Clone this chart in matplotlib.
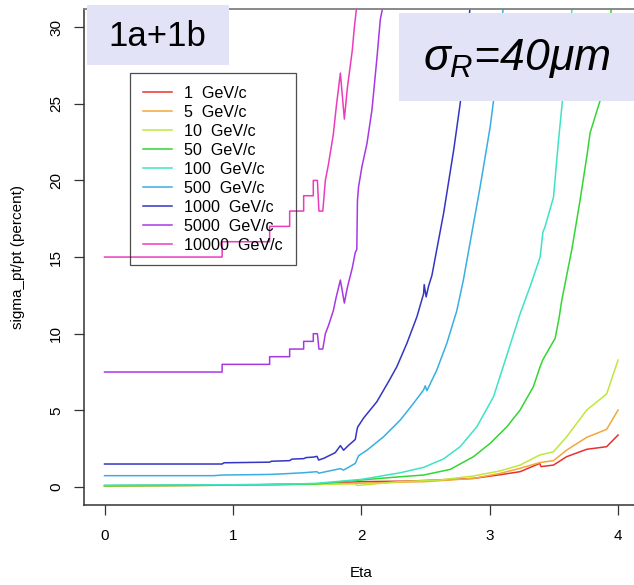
import matplotlib
matplotlib.use("Agg")
import matplotlib.pyplot as plt
from matplotlib.patches import Rectangle

plt.rcParams['font.family'] = ['Liberation Sans', 'DejaVu Sans']
plt.rcParams['mathtext.fontset'] = 'custom'
plt.rcParams['mathtext.it'] = 'Liberation Sans:italic'
plt.rcParams['mathtext.rm'] = 'Liberation Sans:italic'

# momentum labels and line colours
momenta = ["1  GeV/c", "5  GeV/c", "10  GeV/c", "50  GeV/c", "100  GeV/c",
           "500  GeV/c", "1000  GeV/c", "5000  GeV/c", "10000  GeV/c"]
colors = ['#e8312e', '#f2a83a', '#bfe83c', '#33d633', '#3ee3c3',
          '#3aaee3', '#3535c4', '#a838e6', '#ec3cbc']

# sigma_pt/pt (percent) vs eta, one pair of lists per momentum
eta_1 = [0, 1.0, 1.65, 2.0, 2.304, 2.485, 2.874, 3.082, 3.237, 3.39, 3.40, 3.497, 3.6, 3.756, 3.911, 4.0]
res_1 = [0.08, 0.12, 0.2, 0.35, 0.38, 0.42, 0.56, 0.8, 1.0, 1.54, 1.33, 1.43, 1.98, 2.46, 2.63, 3.39]

eta_5 = [0, 1.0, 2.0, 2.5, 2.874, 3.082, 3.237, 3.39, 3.497, 3.6, 3.756, 3.911, 4.0]
res_5 = [0.08, 0.12, 0.25, 0.35, 0.56, 0.89, 1.22, 1.59, 1.72, 2.41, 3.24, 3.76, 5.02]

eta_10 = [0, 1.0, 1.95, 1.97, 2.304, 2.615, 2.874, 3.082, 3.237, 3.39, 3.497, 3.6, 3.756, 3.911, 4.0]
res_10 = [0.08, 0.12, 0.2, 0.1, 0.35, 0.46, 0.72, 1.05, 1.43, 2.09, 2.3, 3.28, 5.02, 6.07, 8.28]

eta_50 = [0, 1.0, 1.65, 2.0, 2.304, 2.485, 2.693, 2.874, 3.004, 3.134, 3.237, 3.34,
          3.393, 3.413, 3.457, 3.51, 3.54, 3.562, 3.64, 3.704, 3.761, 3.782, 3.86, 3.946]
res_50 = [0.08, 0.12, 0.2, 0.46, 0.67, 0.78, 1.15, 1.98, 2.85, 3.93, 5.02, 6.54,
          7.85, 8.28, 8.93, 9.7, 11.0, 12.2, 15.5, 18.7, 21.8, 23.1, 25.2, 31.1]

eta_100 = [0, 1.0, 1.5, 1.65, 2.004, 2.304, 2.485, 2.64, 2.77, 2.9, 3.03, 3.13, 3.237,
           3.32, 3.393, 3.414, 3.432, 3.497, 3.518, 3.536, 3.562, 3.6, 3.645]
res_100 = [0.12, 0.15, 0.2, 0.24, 0.5, 0.93, 1.28, 1.83, 2.63, 3.93, 5.89, 8.5, 11.3,
           13.2, 15.0, 16.6, 17.0, 18.9, 20.9, 22.6, 24.8, 27.8, 31.5]

eta_500 = [0, 0.85, 0.92, 1.29, 1.44, 1.55, 1.655, 1.668, 1.837, 1.862, 1.953, 1.979, 2.044,
           2.174, 2.304, 2.407, 2.485, 2.498, 2.511, 2.588, 2.666, 2.744, 2.795, 2.926,
           3.004, 3.03, 3.094, 3.11]
res_500 = [0.74, 0.74, 0.78, 0.82, 0.88, 0.93, 1.0, 0.9, 1.2, 1.1, 1.54, 2.04, 2.4,
           3.28, 4.37, 5.46, 6.33, 6.6, 6.28, 7.63, 9.37, 11.5, 13.5, 19.6,
           23.5, 25.2, 30.5, 31.5]

eta_1000 = [0, 0.916, 0.93, 1.286, 1.30, 1.442, 1.46, 1.551, 1.57, 1.626, 1.655, 1.668, 1.707,
            1.797, 1.837, 1.862, 1.901, 1.953, 1.966, 1.971, 2.018, 2.121, 2.212, 2.277,
            2.355, 2.433, 2.485, 2.49, 2.505, 2.524, 2.55, 2.642, 2.72, 2.77, 2.85]
res_1000 = [1.5, 1.5, 1.58, 1.62, 1.68, 1.72, 1.82, 1.85, 1.92, 1.95, 2.0, 1.76, 1.87,
            2.24, 2.7, 2.4, 2.72, 3.1, 3.7, 3.9, 4.5, 5.56, 6.87, 7.85,
            9.37, 11.1, 12.6, 13.2, 12.4, 13.1, 13.8, 17.9, 22.0, 25.0, 31.5]

eta_5000 = [0, 0.916, 0.916, 1.286, 1.286, 1.442, 1.442, 1.551, 1.551, 1.626, 1.626, 1.658,
            1.67, 1.70, 1.72, 1.743, 1.782, 1.805, 1.837, 1.868, 1.891, 1.93, 1.953, 1.965,
            1.97, 1.979, 2.005, 2.044, 2.083, 2.122, 2.148, 2.175]
res_5000 = [7.5, 7.5, 8.0, 8.0, 8.5, 8.5, 9.0, 9.0, 9.5, 9.5, 10.0, 10.0,
            9.0, 9.0, 10.0, 10.5, 11.5, 12.4, 13.5, 12.0, 13.0, 14.3, 15.3, 15.5,
            18.7, 19.6, 20.9, 22.4, 24.6, 28.0, 30.5, 31.6]

eta_10000 = [0, 0.916, 0.916, 1.286, 1.286, 1.442, 1.442, 1.551, 1.551, 1.626, 1.626, 1.658,
             1.67, 1.70, 1.72, 1.743, 1.782, 1.805, 1.837, 1.868, 1.891, 1.93, 1.946, 1.961, 1.98]
res_10000 = [15, 15, 16, 16, 17, 17, 18, 18, 19, 19, 20, 20,
             18, 18, 20, 21, 23, 24.8, 27, 24, 26, 28.5, 30, 31.1, 32.5]

curves = [(eta_1, res_1), (eta_5, res_5), (eta_10, res_10), (eta_50, res_50),
          (eta_100, res_100), (eta_500, res_500), (eta_1000, res_1000),
          (eta_5000, res_5000), (eta_10000, res_10000)]

W, H = 634, 585
fig = plt.figure(figsize=(W / 100, H / 100), dpi=100)
# plot region runs off the right-hand edge of the canvas
ax = fig.add_axes([84 / W, (H - 505.4) / H, 554.6 / W, 496.7 / H])

for (eta, res), c, lab in zip(curves, colors, momenta):
    ax.plot(eta, res, color=c, lw=1.1, label=lab)

ax.set_xlim(-0.16, 4.16)
ax.set_ylim(-1.2, 31.2)
ax.set_xticks([0, 1, 2, 3, 4])
ax.set_yticks([0, 5, 10, 15, 20, 25, 30])
ax.tick_params(direction='out', length=7, width=0.9, color='#333333',
               labelsize=11, pad=8)
ax.tick_params(axis='x', pad=10)
for lbl in ax.get_yticklabels():
    lbl.set_rotation(90)
    lbl.set_va('center')
for side in ['left', 'bottom']:
    ax.spines[side].set_color('#333333')
    ax.spines[side].set_linewidth(1.1)
ax.spines['top'].set_color('#808080')
ax.spines['top'].set_linewidth(1.3)

ax.set_xlabel('Eta', fontsize=11)
ax.set_ylabel('sigma_pt/pt (percent)', fontsize=11)
ax.xaxis.set_label_coords(0.5, -0.122)
ax.yaxis.set_label_coords(-0.107, 0.5)

leg = ax.legend(loc='upper left', bbox_to_anchor=(130 / W, 1 - 73 / H),
                bbox_transform=fig.transFigure, borderaxespad=0, fontsize=11.6,
                frameon=True, fancybox=False, facecolor='none', edgecolor='#222222',
                handlelength=1.8, handletextpad=0.8, labelspacing=0.25,
                borderpad=0.78)
leg.get_frame().set_linewidth(0.9)

# annotation boxes on top of the plot
fig.patches.append(Rectangle((87 / W, 1 - 65 / H), 142 / W, 60 / H,
                             transform=fig.transFigure, facecolor='#e3e3f7',
                             edgecolor='none', zorder=5))
fig.text(157 / W, 1 - 36 / H, '1a+1b', fontsize=25, ha='center', va='center',
         zorder=6)
fig.patches.append(Rectangle((399 / W, 1 - 100.7 / H), 240 / W, 88 / H,
                             transform=fig.transFigure, facecolor='#e3e3f7',
                             edgecolor='none', zorder=5))
fig.text(517 / W, 1 - 58 / H, r'$\sigma_R$=40$\mu$m', fontsize=32, style='italic',
         ha='center', va='center', zorder=6)

fig.savefig('out.png', dpi=100)
